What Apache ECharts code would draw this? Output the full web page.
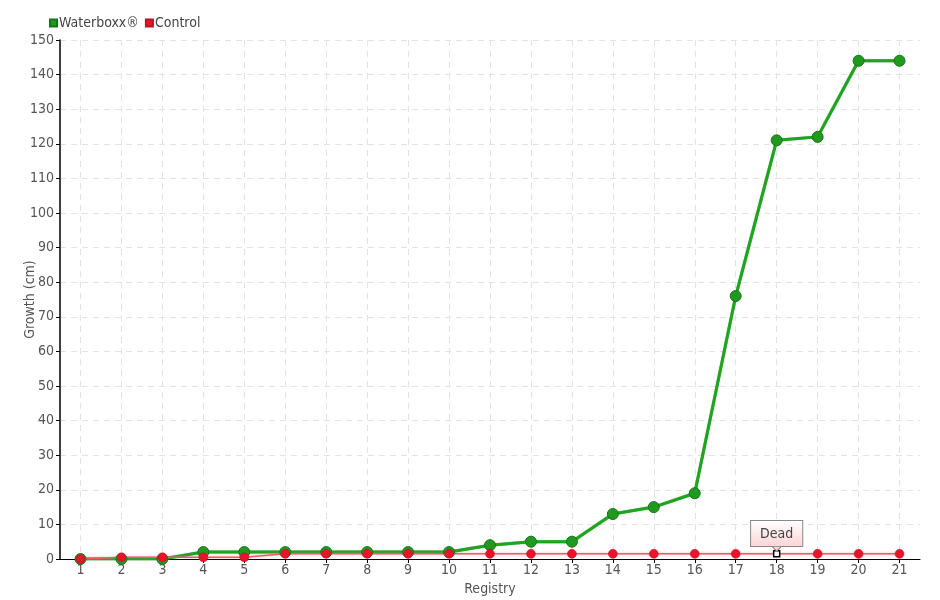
<!DOCTYPE html>
<html>
<head>
<meta charset="utf-8">
<script src="https://cdn.jsdelivr.net/npm/echarts@6/dist/echarts.min.js"></script>
<style>html,body{margin:0;padding:0;background:#fff}#c{width:940px;height:600px}</style>
</head>
<body>
<div id="c"></div>
<script>
const categories = ['1','2','3','4','5','6','7','8','9','10','11','12','13','14','15','16','17','18','19','20','21'];
const waterboxx = [0,0,0,2,2,2,2,2,2,2,4,5,5,13,15,19,76,121,122,144,144];
const control = [0,0.5,0.5,0.5,0.5,1.5,1.5,1.5,1.5,1.5,1.5,1.5,1.5,1.5,1.5,1.5,1.5,1.5,1.5,1.5,1.5];
const deadIndex = 17;
const deadLabel = 'Dead';

const FONT = '"DejaVu Sans Condensed", "Liberation Sans Narrow", "DejaVu Sans", sans-serif';
const chart = echarts.init(document.getElementById('c'), null, {renderer:'canvas'});

const controlData = control.map((v, i) => {
  if (i === deadIndex) {
    return {
      value: v,
      symbol: 'rect',
      symbolSize: 6,
      itemStyle: {color: '#ffffff', borderColor: '#000000', borderWidth: 1.5},
      label: {
        show: true, position: 'top', distance: 4,
        formatter: deadLabel,
        color: '#444', fontSize: 14, fontFamily: FONT,
        padding: [6, 9, 5, 9],
        borderColor: '#888', borderWidth: 1,
        backgroundColor: {type:'linear', x:0, y:0, x2:0, y2:1,
          colorStops:[{offset:0,color:'#ffffff'},{offset:1,color:'#fbd4d4'}]}
      }
    };
  }
  return v;
});

chart.setOption({
  animation: false,
  textStyle: {fontFamily: FONT},
  legend: {
    left: 44, top: 11,
    itemWidth: 7, itemHeight: 7, itemGap: 6,
    icon: 'rect',
    textStyle: {color: '#444', fontSize: 14, fontFamily: FONT, padding: [0,0,0,-3]},
    data: ['Waterboxx®', 'Control']
  },
  grid: {left: 60, right: 20, top: 40, bottom: 41, containLabel: false, outerBoundsMode: 'none'},
  xAxis: {
    type: 'category',
    data: categories,
    boundaryGap: true,
    name: 'Registry', nameLocation: 'middle', nameGap: 22,
    nameTextStyle: {color: '#555', fontSize: 14, fontFamily: FONT},
    axisLine: {lineStyle: {color: '#000', width: 1}},
    axisTick: {show: true, alignWithLabel: true, length: 4, lineStyle: {color: '#000'}},
    axisLabel: {color: '#555', fontSize: 14, margin: 4, fontFamily: FONT},
    splitLine: {show: true, interval: 0, alignWithLabel: true, lineStyle: {color: '#e3e3e3', type: [6,5]}}
  },
  yAxis: {
    type: 'value', min: 0, max: 150, interval: 10,
    name: 'Growth (cm)', nameLocation: 'middle', nameGap: 23, nameMoveOverlap: false,
    nameTextStyle: {color: '#555', fontSize: 14, fontFamily: FONT},
    axisLine: {show: true, lineStyle: {color: '#000', width: 1.5}},
    axisTick: {show: true, length: 4, lineStyle: {color: '#000'}},
    axisLabel: {color: '#555', fontSize: 14, margin: 6, fontFamily: FONT},
    splitLine: {show: true, lineStyle: {color: '#e3e3e3', type: [6,5]}}
  },
  series: [
    {
      name: 'Waterboxx®', type: 'line', data: waterboxx,
      symbol: 'circle', symbolSize: 11,
      color: '#1e9e1e',
      lineStyle: {color: '#1ea51e', width: 3, shadowColor: 'rgba(0,80,0,0.5)', shadowBlur: 1},
      itemStyle: {color: '#1f9a1f', borderColor: '#167516', borderWidth: 1}
    },
    {
      name: 'Control', type: 'line', data: controlData,
      symbol: 'circle', symbolSize: 9,
      color: '#e8142b',
      lineStyle: {color: '#ee5a6a', width: 1.5, shadowColor: 'rgba(240,120,130,0.6)', shadowBlur: 3},
      itemStyle: {color: '#e8142b', borderColor: '#c21022', borderWidth: 0.5},
      markPoint: {
        silent: true,
        data: [{
          coord: [deadIndex, control[deadIndex]],
          symbol: 'triangle', symbolRotate: 180, symbolSize: [9, 5],
          symbolOffset: [0, -5],
          itemStyle: {color: '#fbd4d4', borderColor: '#888', borderWidth: 1},
          label: {show: false}
        }]
      }
    }
  ]
});
</script>
</body>
</html>
